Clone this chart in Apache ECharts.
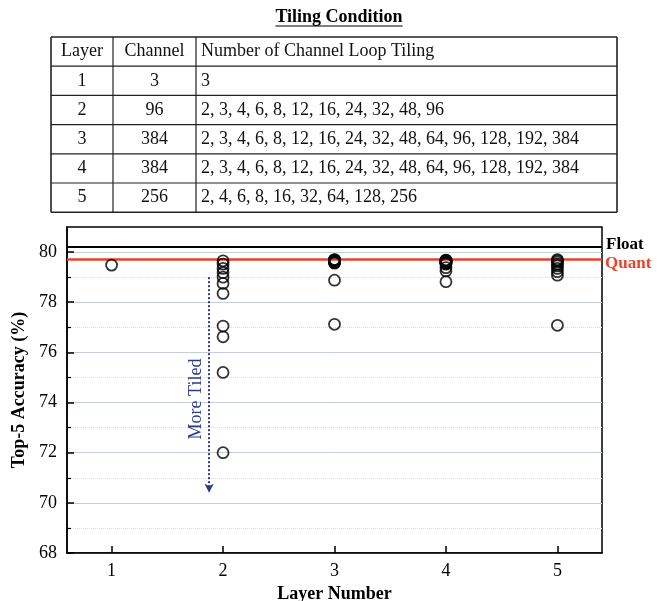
<!DOCTYPE html>
<html>
<head>
<meta charset="utf-8">
<script src="https://cdn.jsdelivr.net/npm/echarts@6/dist/echarts.min.js"></script>
<style>
html,body{margin:0;padding:0;background:#fff;}
#c{width:657px;height:601px;}
</style>
</head>
<body>
<div id="c"></div>
<script>
// ---- Table data ----
const tableTitle = 'Tiling Condition';
const tableHeader = ['Layer', 'Channel', 'Number of Channel Loop Tiling'];
const tableLayers = ['1', '2', '3', '4', '5'];
const tableChannels = ['3', '96', '384', '384', '256'];
const tableTilings = [
  '3',
  '2, 3, 4, 6, 8, 12, 16, 24, 32, 48, 96',
  '2, 3, 4, 6, 8, 12, 16, 24, 32, 48, 64, 96, 128, 192, 384',
  '2, 3, 4, 6, 8, 12, 16, 24, 32, 48, 64, 96, 128, 192, 384',
  '2, 4, 6, 8, 16, 32, 64, 128, 256'
];

// ---- Chart data ----
const layerNumbers = [1, 2, 3, 4, 5];
const layer1Acc = [79.48];
const layer2Acc = [79.65, 79.52, 79.35, 79.18, 79.0, 78.75, 78.35, 77.05, 76.62, 75.2, 72.0];
const layer3Acc = [79.7, 79.69, 79.68, 79.67, 79.66, 79.65, 79.64, 79.63, 79.62, 79.61, 79.6, 79.58, 79.56, 78.88, 77.12];
const layer4Acc = [79.68, 79.67, 79.66, 79.65, 79.64, 79.63, 79.62, 79.6, 79.58, 79.56, 79.54, 79.52, 79.38, 79.25, 78.82];
const layer5Acc = [79.7, 79.66, 79.6, 79.52, 79.45, 79.35, 79.22, 79.08, 77.08];
const floatAcc = 80.2;
const quantAcc = 79.7;
const refNames = ['Float', 'Quant'];
const yMajorTicks = [68, 70, 72, 74, 76, 78, 80];
const yMinorTicks = [69, 71, 73, 75, 77, 79];
const arrowLayer = 1.875;
const arrowFrom = 79.0;
const arrowTo = 70.4;
const arrowText = 'More Tiled';

const FONT = '"Liberation Serif", "Times New Roman", serif';
const allLayers = [layer1Acc, layer2Acc, layer3Acc, layer4Acc, layer5Acc];
const points = [];
allLayers.forEach((arr, i) => arr.forEach(v => points.push([layerNumbers[i], v])));

// ---- Table graphic ----
function buildTable() {
  const els = [];
  const x0 = 51, y0 = 37, colW = [62, 83, 421], rowH = 29.2;
  const rows = [tableHeader].concat(tableLayers.map((l, i) => [l, tableChannels[i], tableTilings[i]]));
  const totalW = colW.reduce((a, b) => a + b, 0);
  const totalH = rowH * rows.length;
  const cv = document.createElement('canvas').getContext('2d');
  cv.font = 'bold 18px ' + FONT;
  const tw = cv.measureText(tableTitle).width;
  const tcx = 339, tcy = 17;
  els.push({type: 'text', x: tcx, y: tcy, style: {text: tableTitle, font: 'bold 18px ' + FONT, fill: '#000', align: 'center', verticalAlign: 'middle'}});
  els.push({type: 'line', shape: {x1: tcx - tw / 2, y1: tcy + 9, x2: tcx + tw / 2, y2: tcy + 9}, style: {stroke: '#000', lineWidth: 1.2}});
  for (let r = 0; r <= rows.length; r++) {
    const y = y0 + r * rowH;
    els.push({type: 'line', shape: {x1: x0, y1: y, x2: x0 + totalW, y2: y}, style: {stroke: '#222', lineWidth: (r === 0 || r === rows.length) ? 1.6 : 1.2}});
  }
  let cx = x0;
  for (let c = 0; c <= colW.length; c++) {
    els.push({type: 'line', shape: {x1: cx, y1: y0, x2: cx, y2: y0 + totalH}, style: {stroke: '#222', lineWidth: (c === 0 || c === colW.length) ? 1.6 : 1.2}});
    if (c < colW.length) cx += colW[c];
  }
  rows.forEach((row, r) => {
    const yc = y0 + r * rowH + rowH / 2;
    let xl = x0;
    row.forEach((txt, c) => {
      const center = c < 2;
      els.push({type: 'text', x: center ? xl + colW[c] / 2 : xl + 5, y: yc,
        style: {text: txt, font: '18px ' + FONT, fill: '#111', align: center ? 'center' : 'left', verticalAlign: 'middle'}});
      xl += colW[c];
    });
  });
  return els;
}

const chart = echarts.init(document.getElementById('c'), null, {renderer: 'canvas'});
const option = {
  backgroundColor: '#fff',
  animation: false,
  grid: {left: 67, right: 55, top: 227, bottom: 48, show: true, borderColor: '#000', borderWidth: 1.5, outerBoundsMode: 'none'},
  xAxis: {
    type: 'value', min: 0.6, max: 5.4,
    name: 'Layer Number', nameLocation: 'middle', nameGap: 25,
    nameTextStyle: {fontFamily: FONT, fontWeight: 'bold', fontSize: 18, color: '#000'},
    axisLine: {show: true, lineStyle: {color: '#000', width: 1.5}},
    axisTick: {show: true, inside: true, length: 7, customValues: layerNumbers, lineStyle: {color: '#000', width: 1.5}},
    axisLabel: {customValues: layerNumbers, fontFamily: FONT, fontSize: 18, color: '#000', margin: 9},
    splitLine: {show: false}
  },
  yAxis: [{
    type: 'value', min: 68, max: 81, interval: 2,
    name: 'Top-5 Accuracy (%)', nameLocation: 'middle', nameGap: 38,
    nameTextStyle: {fontFamily: FONT, fontWeight: 'bold', fontSize: 18, color: '#000'},
    axisLine: {show: true, lineStyle: {color: '#000', width: 1.5}},
    axisTick: {show: true, inside: true, length: 7, customValues: yMajorTicks, lineStyle: {color: '#000', width: 1.5}},
    axisLabel: {customValues: yMajorTicks, fontFamily: FONT, fontSize: 18, color: '#000', margin: 10},
    splitLine: {show: true, lineStyle: {color: '#c2cedb', width: 1}}
  }, {
    type: 'value', min: 68, max: 81, interval: 1, position: 'left',
    axisLine: {show: false},
    axisTick: {show: true, inside: true, length: 4, customValues: yMinorTicks, lineStyle: {color: '#000', width: 1.2}},
    axisLabel: {show: false},
    splitLine: {show: true, lineStyle: {color: '#dcdcdc', width: 1, type: 'dotted'}}
  }],
  series: [{
    type: 'scatter',
    data: points,
    symbol: 'circle', symbolSize: 11,
    itemStyle: {color: 'rgba(0,0,0,0)', borderColor: '#000', borderWidth: 1.8},
    z: 5,
    markLine: {
      silent: true, symbol: 'none', animation: false,
      label: {show: false},
      data: [
        {yAxis: floatAcc, lineStyle: {color: '#000', width: 2, type: 'solid'}},
        {yAxis: quantAcc, lineStyle: {color: '#e8432a', width: 2.5, type: 'solid'}},
        [{coord: [arrowLayer, arrowFrom], symbol: 'none'},
         {coord: [arrowLayer, arrowTo], symbol: 'arrow', symbolSize: [7, 9],
          lineStyle: {color: '#2b3d86', width: 2, type: 'dotted'}}]
      ]
    }
  }],
  graphic: buildTable()
};
chart.setOption(option);

// Annotations positioned through the chart scales
const pTop = chart.convertToPixel({gridIndex: 0}, [arrowLayer, arrowFrom]);
const pBot = chart.convertToPixel({gridIndex: 0}, [arrowLayer, arrowTo]);
const pFloat = chart.convertToPixel({gridIndex: 0}, [5.4, floatAcc]);
const pQuant = chart.convertToPixel({gridIndex: 0}, [5.4, quantAcc]);
const extra = buildTable();
extra.push({type: 'text', x: pTop[0] - 13, y: (pTop[1] + pBot[1]) / 2 + 14, rotation: Math.PI / 2,
  style: {text: arrowText, font: '18px ' + FONT, fill: '#2b3d86', align: 'center', verticalAlign: 'middle'}});
extra.push({type: 'text', x: pFloat[0] + 4, y: pFloat[1] - 2,
  style: {text: refNames[0], font: 'bold 17px ' + FONT, fill: '#000', align: 'left', verticalAlign: 'middle'}});
extra.push({type: 'text', x: pQuant[0] + 3, y: pQuant[1] + 4,
  style: {text: refNames[1], font: 'bold 17px ' + FONT, fill: '#e8432a', align: 'left', verticalAlign: 'middle'}});
chart.setOption({graphic: extra}, {replaceMerge: ['graphic']});
</script>
</body>
</html>
